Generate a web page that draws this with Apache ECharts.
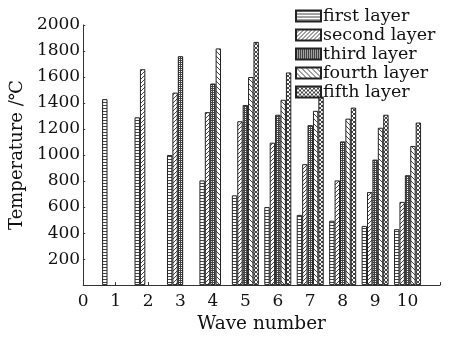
<!DOCTYPE html>
<html><head><meta charset="utf-8">
<script src="https://cdn.jsdelivr.net/npm/echarts@6/dist/echarts.min.js"></script>
<style>html,body{margin:0;padding:0;background:#fff}#c{width:451px;height:339px}</style>
</head><body><div id="c"></div>
<script>
// ---- data ----
const xTickLabels = ['0','1','2','3','4','5','6','7','8','9','10',''];
const seriesNames = ['first layer','second layer','third layer','fourth layer','fifth layer'];
// values per wave number 1..10
const firstLayer  = [1430, 1290, 1000, 805, 690, 600, 540, 495, 455, 430];
const secondLayer = [null, 1660, 1480, 1330, 1260, 1095, 930, 805, 715, 640];
const thirdLayer  = [null, null, 1760, 1550, 1385, 1310, 1230, 1105, 965, 845];
const fourthLayer = [null, null, null, 1820, 1600, 1425, 1340, 1280, 1210, 1070];
const fifthLayer  = [null, null, null, null, 1870, 1635, 1450, 1365, 1310, 1250];
const yTicks = [200,400,600,800,1000,1200,1400,1600,1800,2000];

// ---- patterns ----
function tile(w, h, pts) {
  const c = document.createElement('canvas');
  c.width = w; c.height = h;
  const g = c.getContext('2d');
  g.fillStyle = '#fff'; g.fillRect(0, 0, w, h);
  g.fillStyle = '#444';
  pts.forEach(p => g.fillRect(p[0], p[1], 1, 1));
  return c;
}
function pHoriz() { const p = []; for (let x = 0; x < 4; x++) p.push([x, 0]); return tile(4, 3, p); }
function pSlash() { const n = 4, p = []; for (let i = 0; i < n; i++) p.push([i, n - 1 - i]); return tile(n, n, p); }
function pGrid() { const p = []; for (let i = 0; i < 2; i++) { p.push([i, 0]); p.push([0, i]); } return tile(2, 2, p); }
function pBack() { const n = 5, p = []; for (let i = 0; i < n; i++) p.push([i, i]); return tile(n, n, p); }
function pCross() { const n = 4, p = []; for (let i = 0; i < n; i++) { p.push([i, i]); p.push([i, n - 1 - i]); } return tile(n, n, p); }
const patterns = [pHoriz(), pSlash(), pGrid(), pBack(), pCross()];

const values = [firstLayer, secondLayer, thirdLayer, fourthLayer, fifthLayer];
const FONT = 'DejaVu Serif';

const chart = echarts.init(document.getElementById('c'), null, {renderer: 'canvas'});
chart.setOption({
  animation: false,
  backgroundColor: '#fff',
  textStyle: {fontFamily: FONT},
  grid: {left: 80, right: 11, top: 25, bottom: 51, containLabel: false},
  legend: {
    orient: 'vertical', left: 295, top: 7, padding: 0, itemGap: 1,
    itemWidth: 25, itemHeight: 11, icon: 'rect',
    textStyle: {fontFamily: FONT, fontSize: 17.5, color: '#111', padding: [0,0,0,-3]},
    data: seriesNames
  },
  xAxis: {
    type: 'category', data: xTickLabels, boundaryGap: false,
    name: 'Wave number', nameLocation: 'middle', nameGap: 22,
    nameTextStyle: {fontFamily: FONT, fontSize: 18.5, color: '#111'},
    axisLine: {lineStyle: {color: '#333', width: 1}},
    axisTick: {show: true, inside: true, length: 3, alignWithLabel: true, lineStyle: {color: '#333'}},
    axisLabel: {fontFamily: FONT, fontSize: 17, color: '#111', margin: 8, interval: 0},
    splitLine: {show: false}
  },
  yAxis: {
    type: 'value', min: 0, max: 2000, interval: 200,
    name: 'Temperature /℃', nameLocation: 'middle', nameGap: 50,
    nameTextStyle: {fontFamily: FONT, fontSize: 18, color: '#111'},
    axisLine: {show: true, lineStyle: {color: '#333', width: 1}},
    axisTick: {show: true, inside: true, length: 2, lineStyle: {color: '#333'}},
    axisLabel: {fontFamily: FONT, fontSize: 17, color: '#111', margin: 3,
      formatter: v => yTicks.indexOf(v) >= 0 ? String(v) : ''},
    splitLine: {show: false}
  },
  series: seriesNames.map((name, i) => ({
    name: name, type: 'bar', barWidth: 5.4, barGap: '0%',
    data: [null].concat(values[i]).concat([null]),
    itemStyle: {color: {image: patterns[i], repeat: 'repeat'}, borderColor: '#222', borderWidth: 1}
  }))
});
</script></body></html>
